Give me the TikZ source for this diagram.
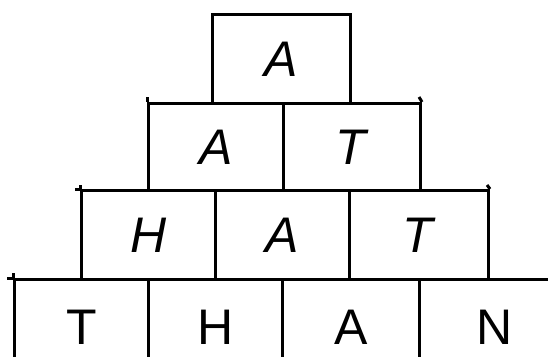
\documentclass[tikz,border=0pt]{standalone}
\usepackage{fontspec}
\setmainfont{Liberation Sans}
\begin{document}
\begin{tikzpicture}[x=1pt,y=-1pt,
  cell/.style={draw=black, line width=3pt, anchor=north west, inner sep=0pt,
    font=\fontsize{50}{50}\selectfont},
  ext/.style={draw=black, line width=3pt}]
\useasboundingbox (0,0) rectangle (548,356);
\clip (0,0) rectangle (548,356);
% top
\node[cell, minimum width=138pt, minimum height=89pt] (c0) at (211,13) {\textit{A}};
% row 2
\node[cell, minimum width=135pt, minimum height=87pt] (c21) at (147,102) {\textit{A}};
\node[cell, minimum width=137pt, minimum height=87pt] (c22) at (282,102) {\textit{T}};
% row 3
\node[cell, minimum width=134pt, minimum height=89pt] (c31) at (80,189) {\textit{H}};
\node[cell, minimum width=134pt, minimum height=89pt] (c32) at (214,189) {\textit{A}};
\node[cell, minimum width=139pt, minimum height=89pt] (c33) at (348,189) {\textit{T}};
% row 4
\node[cell, minimum width=134pt, minimum height=96pt] (c41) at (13,278) {T};
\node[cell, minimum width=134pt, minimum height=96pt] (c42) at (147,278) {H};
\node[cell, minimum width=137pt, minimum height=96pt] (c43) at (281,278) {A};
\node[cell, minimum width=150pt, minimum height=96pt] (c44) at (418,278) {N};
% small extensions
\coordinate (e1) at (147,97);
\coordinate (e2) at (419,97);
\coordinate (e3) at (75,189);
\coordinate (e4) at (80,185);
\coordinate (e5) at (487,185);
\coordinate (e6) at (7,278);
\coordinate (e7) at (13,273);
\draw[ext] (e1) -- (c21.north west);
\draw[ext] (e2) -- (c22.north east);
\draw[ext] (e3) -- (c31.north west);
\draw[ext] (e4) -- (c31.north west);
\draw[ext] (e5) -- (c33.north east);
\draw[ext] (e6) -- (c41.north west);
\draw[ext] (e7) -- (c41.north west);
\end{tikzpicture}
\end{document}
